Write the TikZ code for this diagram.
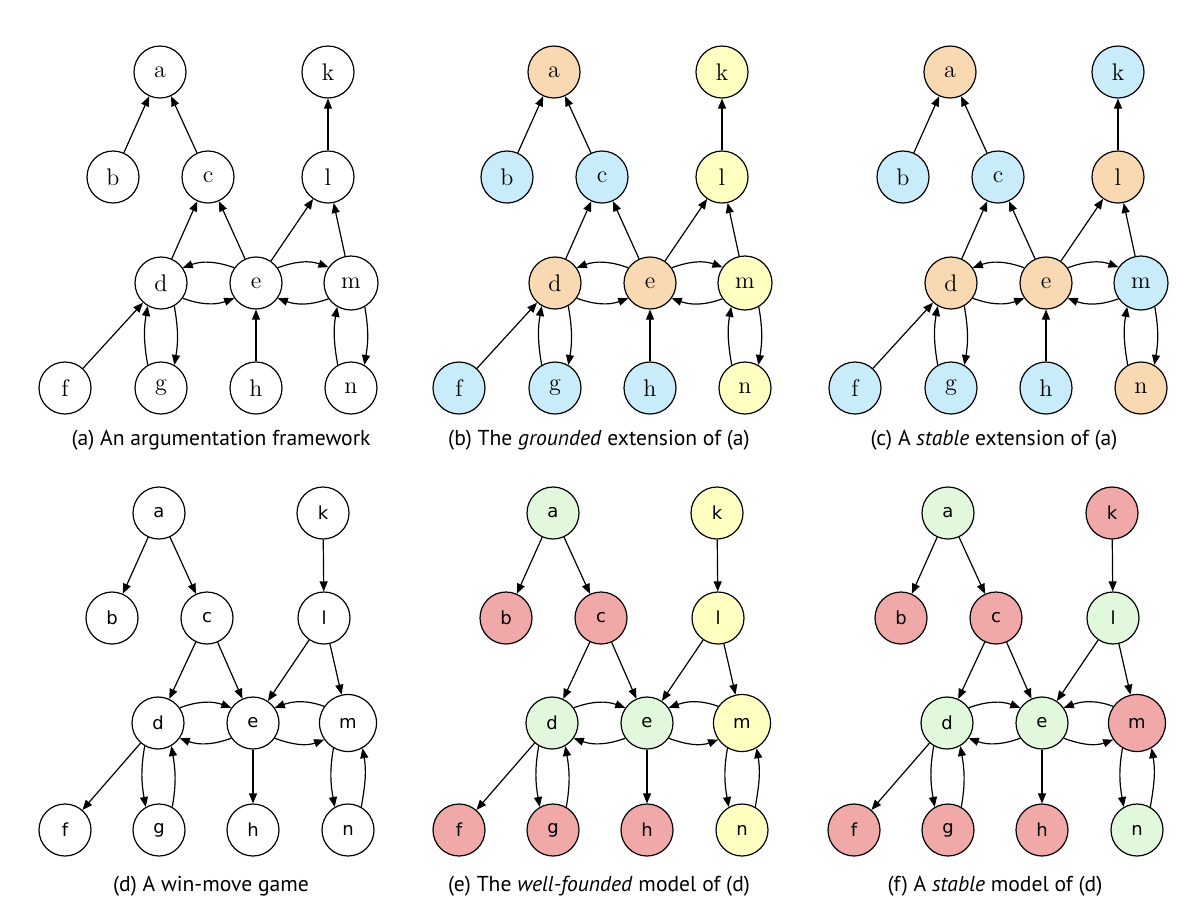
\documentclass[tikz,border=0pt]{standalone}
\usepackage{fontspec}
\newfontfamily\capfont{PT Sans}
\newfontfamily\dvfont{DejaVu Sans}
\usetikzlibrary{arrows.meta}
\definecolor{org}{HTML}{F8D9B2}
\definecolor{blu}{HTML}{C8ECFA}
\definecolor{yel}{HTML}{FFFFC2}
\definecolor{grn}{HTML}{E2F8DC}
\definecolor{rd}{HTML}{F0A9A8}
\tikzset{
  nd/.style={circle,draw=black,line width=0.6pt,inner sep=0pt},
  topfont/.style={font=\fontsize{12}{14}\selectfont},
  botfont/.style={font=\dvfont\fontsize{9}{11}\selectfont},
  ar/.style={line width=0.6pt,-{Triangle[length=5pt,width=4pt]}},
  captxt/.style={font=\capfont\fontsize{10.8}{12}\selectfont,inner sep=0pt}
}
\def\toppos{a/160/72/26pt,b/113/177/26pt,c/208/177/26pt,k/328/72/26pt,l/328/177/26pt,d/161/283/26pt,e/256/283/26pt,m/351/283/27pt,f/65/388/26pt,g/161/388/26pt,h/256/388/26pt,n/351/388/26pt}
\def\botpos{a/159/513/26pt,b/112/618/26pt,c/207/618/26pt,k/323/513/26pt,l/324/618/26pt,d/158/723/26pt,e/253/723/26pt,m/348/723/28.5pt,f/65/830/26pt,g/159/830/26pt,h/253/830/26pt,n/348/830/26pt}
% #1 prefix, #2 dx, #3 positions, #4 font style, #5 colours n/colour
\newcommand\drawpanel[5]{%
  \foreach \n/\c in {#5} {\expandafter\xdef\csname col@\n\endcsname{\c}}%
  \foreach \n/\x/\y/\s in #3 {%
    \edef\cc{\csname col@\n\endcsname}%
    \node[nd,#4,minimum size=\s,fill=\cc] (#1\n) at (\x+#2,-\y) {\n};
  }%
}
\newcommand\attedges[1]{%
  \draw[ar] (#1b) -- (#1a);
  \draw[ar] (#1c) -- (#1a);
  \draw[ar] (#1l) -- (#1k);
  \draw[ar] (#1d) -- (#1c);
  \draw[ar] (#1e) -- (#1c);
  \draw[ar] (#1e) -- (#1l);
  \draw[ar] (#1m) -- (#1l);
  \draw[ar] (#1e.145) to[out=160,in=20] (#1d.35);
  \draw[ar] (#1d.-35) to[out=-20,in=-160] (#1e.-145);
  \draw[ar] (#1e.35) to[out=20,in=160] (#1m.145);
  \draw[ar] (#1m.-145) to[out=-160,in=-20] (#1e.-35);
  \draw[ar] (#1f) -- (#1d);
  \draw[ar] (#1g.120) to[out=100,in=-100] (#1d.-120);
  \draw[ar] (#1d.-60) to[out=-80,in=80] (#1g.60);
  \draw[ar] (#1h) -- (#1e);
  \draw[ar] (#1n.120) to[out=100,in=-100] (#1m.-120);
  \draw[ar] (#1m.-60) to[out=-80,in=80] (#1n.60);
}
\newcommand\movedges[1]{%
  \draw[ar] (#1a) -- (#1b);
  \draw[ar] (#1a) -- (#1c);
  \draw[ar] (#1k) -- (#1l);
  \draw[ar] (#1c) -- (#1d);
  \draw[ar] (#1c) -- (#1e);
  \draw[ar] (#1l) -- (#1e);
  \draw[ar] (#1l) -- (#1m);
  \draw[ar] (#1d.35) to[out=20,in=160] (#1e.145);
  \draw[ar] (#1e.-145) to[out=-160,in=-20] (#1d.-35);
  \draw[ar] (#1m.145) to[out=160,in=20] (#1e.35);
  \draw[ar] (#1e.-35) to[out=-20,in=-160] (#1m.-145);
  \draw[ar] (#1d) -- (#1f);
  \draw[ar] (#1d.-120) to[out=-100,in=100] (#1g.120);
  \draw[ar] (#1g.60) to[out=80,in=-80] (#1d.-60);
  \draw[ar] (#1e) -- (#1h);
  \draw[ar] (#1m.-120) to[out=-100,in=100] (#1n.120);
  \draw[ar] (#1n.60) to[out=80,in=-80] (#1m.-60);
}
\begin{document}
\begin{tikzpicture}[x=0.5pt,y=0.5pt]
\useasboundingbox[fill=white] (0,0) rectangle (1200,-912);
% (a)
\drawpanel{A}{0}{\toppos}{topfont}{a/white,b/white,c/white,d/white,e/white,f/white,g/white,h/white,k/white,l/white,m/white,n/white}
\attedges{A}
% (b)
\drawpanel{B}{394}{\toppos}{topfont}{a/org,b/blu,c/blu,d/org,e/org,f/blu,g/blu,h/blu,k/yel,l/yel,m/yel,n/yel}
\attedges{B}
% (c)
\drawpanel{C}{790}{\toppos}{topfont}{a/org,b/blu,c/blu,d/org,e/org,f/blu,g/blu,h/blu,k/blu,l/org,m/blu,n/org}
\attedges{C}
% (d)
\drawpanel{D}{0}{\botpos}{botfont}{a/white,b/white,c/white,d/white,e/white,f/white,g/white,h/white,k/white,l/white,m/white,n/white}
\movedges{D}
% (e)
\drawpanel{E}{394}{\botpos}{botfont}{a/grn,b/rd,c/rd,d/grn,e/grn,f/rd,g/rd,h/rd,k/yel,l/yel,m/yel,n/yel}
\movedges{E}
% (f)
\drawpanel{F}{789}{\botpos}{botfont}{a/grn,b/rd,c/rd,d/grn,e/grn,f/rd,g/rd,h/rd,k/rd,l/grn,m/rd,n/grn}
\movedges{F}
% captions
\node[captxt] (capA) at (221,-440) {(a) An argumentation framework};
\node[captxt] (capB) at (599,-440) {(b) The \textit{grounded} extension of (a)};
\node[captxt] (capC) at (994,-440) {(c) A \textit{stable} extension of (a)};
\node[captxt] (capD) at (211,-886) {(d) A win-move game};
\node[captxt] (capE) at (599,-886) {(e) The \textit{well-founded} model of (d)};
\node[captxt] (capF) at (995,-886) {(f) A \textit{stable} model of (d)};
\end{tikzpicture}
\end{document}
